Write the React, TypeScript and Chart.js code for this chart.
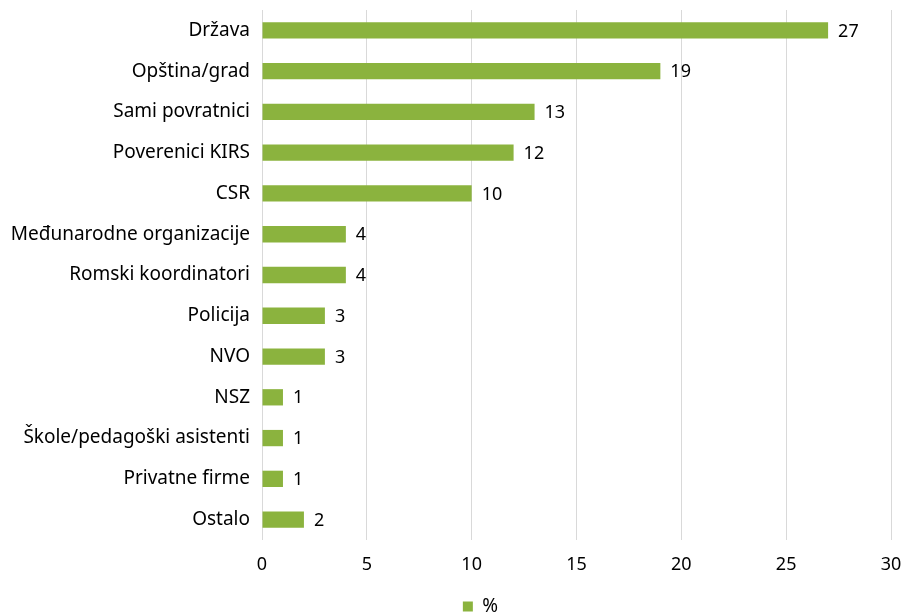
import React, { useEffect, useRef } from "react";
import { Chart, registerables } from "chart.js";

Chart.register(...registerables);

const categories = [
  "Država",
  "Opština/grad",
  "Sami povratnici",
  "Poverenici KIRS",
  "CSR",
  "Međunarodne organizacije",
  "Romski koordinatori",
  "Policija",
  "NVO",
  "NSZ",
  "Škole/pedagoški asistenti",
  "Privatne firme",
  "Ostalo",
];
const values = [27, 19, 13, 12, 10, 4, 4, 3, 3, 1, 1, 1, 2];
const seriesName = "%";
const xTicks = [0, 5, 10, 15, 20, 25, 30];

const FONT = "'Noto Sans', sans-serif";
const GREEN = "#8BB33E";

const valueLabels = {
  id: "valueLabels",
  afterDatasetsDraw(chart: any) {
    const ctx = chart.ctx;
    const meta = chart.getDatasetMeta(0);
    ctx.save();
    ctx.font = `18px ${FONT}`;
    ctx.fillStyle = "#000";
    ctx.textAlign = "left";
    ctx.textBaseline = "middle";
    meta.data.forEach((bar: any, i: number) => {
      ctx.fillText(String(chart.data.datasets[0].data[i]), bar.x + 10, bar.y + 1);
    });
    ctx.restore();
  },
};

const legendShift = {
  id: "legendShift",
  afterLayout(chart: any) {
    if (chart.legend) {
      chart.legend.left += 35;
      chart.legend.right += 35;
    }
  },
};

export default function App() {
  const ref = useRef<HTMLCanvasElement>(null);
  useEffect(() => {
    if (!ref.current) return;
    const chart = new Chart(ref.current, {
      type: "bar",
      data: {
        labels: categories,
        datasets: [
          {
            label: seriesName,
            data: values,
            backgroundColor: GREEN,
            borderWidth: 0,
            categoryPercentage: 1,
            barPercentage: 0.4,
          },
        ],
      },
      options: {
        indexAxis: "y",
        animation: false,
        responsive: false,
        devicePixelRatio: 1,
        layout: { padding: { top: 10, right: 13, left: 0, bottom: -13 } },
        scales: {
          x: {
            min: 0,
            max: 30,
            afterBuildTicks: (s: any) => {
              s.ticks = xTicks.map((v) => ({ value: v }));
            },
            grid: { color: "#D9D9D9", drawTicks: false, lineWidth: 1 },
            border: { display: false },
            ticks: { padding: 14, color: "#000", font: { family: FONT, size: 18 } },
            afterFit: (s: any) => {
              s.height = 57;
              s.paddingLeft = 0;
              s.paddingRight = 0;
            },
          },
          y: {
            grid: { display: false, drawTicks: false },
            border: { display: false },
            ticks: { padding: 12, color: "#000", font: { family: FONT, size: 19 } },
            afterFit: (s: any) => {
              s.width = 262;
              s.paddingTop = 0;
              s.paddingBottom = 0;
            },
          },
        },
        plugins: {
          legend: {
            position: "bottom",
            labels: {
              boxWidth: 10,
              boxHeight: 10,
              color: "#000",
              font: { family: FONT, size: 19 },
              padding: 0,
            },
          },
          tooltip: { enabled: false },
        },
      },
      plugins: [valueLabels, legendShift],
    });
    return () => chart.destroy();
  }, []);
  return (
    <div style={{ position: "fixed", left: 0, top: 0, width: 904, height: 613, background: "#fff" }}>
      <canvas ref={ref} width={904} height={613} style={{ width: 904, height: 613 }} />
    </div>
  );
}
